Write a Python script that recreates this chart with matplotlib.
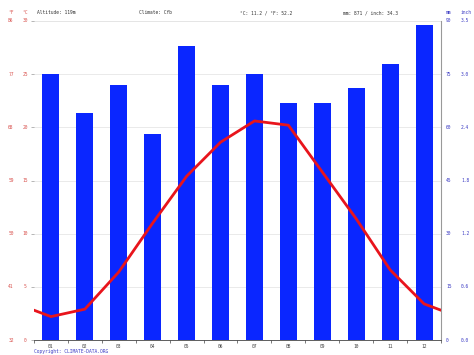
import numpy as np
import matplotlib.pyplot as plt
from matplotlib.transforms import blended_transform_factory

# Data
months = ["01", "02", "03", "04", "05", "06", "07", "08", "09", "10", "11", "12"]
precip_mm = [75, 64, 72, 58, 83, 72, 75, 67, 67, 71, 78, 89]
temp_c = [2.2, 2.9, 6.4, 11.0, 15.4, 18.6, 20.6, 20.2, 15.8, 11.4, 6.6, 3.4]

c_ticks = [0, 5, 10, 15, 20, 25, 30]
f_labels = ["32", "41", "50", "59", "68", "77", "86"]
mm_ticks = [0, 15, 30, 45, 60, 75, 90]
inch_labels = ["0.0", "0.6", "1.2", "1.8", "2.4", "3.0", "3.5"]

header = ["Altitude: 119m", "Climate: Cfb", "°C: 11.2 / °F: 52.2", "mm: 871 / inch: 34.3"]

red_txt = "#d9534f"
blue_txt = "#3b3bc4"
fs = 3.3
plt.rcParams['font.family'] = 'DejaVu Sans Mono'

W, H = 474, 355
fig = plt.figure(figsize=(W / 100, H / 100), dpi=100)
ax = fig.add_axes([34 / W, 1 - 340 / H, 407 / W, 319 / H])

x = np.arange(1, 13)

# precipitation bars (mm axis)
ax.bar(x, precip_mm, width=0.5, color="#0a26ff", zorder=2)
ax.set_ylim(0, 90)
ax.set_xlim(0.5, 12.5)
ax.set_yticks(mm_ticks)
ax.grid(axis="y", color="#e6e6e6", linewidth=0.6, zorder=0)
ax.tick_params(axis="y", which="major", right=True, left=False, length=2,
               color="#999999", width=0.5, labelleft=False)
ax.set_xticks(x)
ax.set_xticklabels(months, fontsize=fs, color="#444444")
ax.set_xticks(np.arange(0.5, 13, 1), minor=True)
ax.tick_params(axis="x", which="major", length=0, pad=3)
ax.tick_params(axis="x", which="minor", length=2, color="#444444", width=0.5)
for s in ["left", "top"]:
    ax.spines[s].set_visible(False)
ax.spines["bottom"].set_color("#444444")
ax.spines["bottom"].set_linewidth(0.6)
ax.spines["right"].set_color("#999999")
ax.spines["right"].set_linewidth(0.8)
ax.axhline(90, color="#dddddd", linewidth=0.6, zorder=1)

# temperature line (wraps around the year at the edges)
ax2 = ax.twinx()
ax2.set_ylim(0, 30)
tx = np.concatenate(([0], x, [13]))
ty = np.concatenate(([temp_c[-1]], temp_c, [temp_c[0]]))
ax2.plot(tx, ty, color="#e8141c", linewidth=2.0, zorder=5, solid_joinstyle="round")
ax2.set_xlim(0.5, 12.5)
ax2.set_yticks([])
for s in ax2.spines.values():
    s.set_visible(False)

# left labels (°F / °C)
trl = blended_transform_factory(fig.transFigure, ax2.transData)
for c, f in zip(c_ticks, f_labels):
    fig.text(11 / W, c, f, transform=trl, fontsize=fs, color=red_txt, ha="center", va="center")
    fig.text(25 / W, c, str(c), transform=trl, fontsize=fs, color=red_txt, ha="center", va="center")

# right labels (mm / inch)
trr = blended_transform_factory(fig.transFigure, ax.transData)
for m, i in zip(mm_ticks, inch_labels):
    fig.text(446 / W, m, str(m), transform=trr, fontsize=fs, color=blue_txt, ha="left", va="center")
    fig.text(461 / W, m, i, transform=trr, fontsize=fs, color=blue_txt, ha="left", va="center")

# header
hy = 1 - 13 / H
fig.text(11 / W, hy, "°F", fontsize=fs, color=red_txt, ha="center", va="center")
fig.text(25 / W, hy, "°C", fontsize=fs, color=red_txt, ha="center", va="center")
for xp, s in zip([37, 139, 240, 343], header):
    fig.text(xp / W, hy, s, fontsize=fs, color="#333333", ha="left", va="center")
fig.text(446 / W, hy, "mm", fontsize=fs, color=blue_txt, ha="left", va="center")
fig.text(461 / W, hy, "inch", fontsize=fs, color=blue_txt, ha="left", va="center")

fig.text(34 / W, 1 - 351 / H, "Copyright: CLIMATE-DATA.ORG", fontsize=fs, color=blue_txt,
         ha="left", va="center")

fig.savefig("out.png", dpi=100, facecolor="white")
